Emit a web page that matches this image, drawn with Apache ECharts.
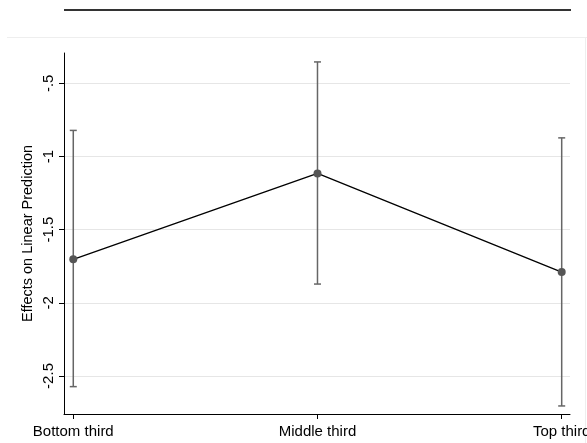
<!DOCTYPE html>
<html>
<head>
<meta charset="utf-8">
<script src="https://cdn.jsdelivr.net/npm/echarts@6/dist/echarts.min.js"></script>
<style>
html,body{margin:0;padding:0;background:#fff;}
#c{width:587px;height:443px;}
</style>
</head>
<body>
<div id="c"></div>
<script>
const categories = ["Bottom third", "Middle third", "Top third"];
const positions = [1, 2, 3];
const estimates = [-1.703, -1.116, -1.79];
const lowerCI = [-2.573, -1.872, -2.705];
const upperCI = [-0.822, -0.354, -0.873];
const yTicks = [-2.5, -2, -1.5, -1, -0.5];
const yTickLabels = ["-2.5", "-2", "-1.5", "-1", "-.5"];

const FONT = '"Liberation Sans", Arial, sans-serif';
const chart = echarts.init(document.getElementById('c'), null, {renderer: 'canvas'});

const lineData = positions.map((p, i) => [p, estimates[i]]);
const ciData = positions.map((p, i) => [p, lowerCI[i], upperCI[i]]);

chart.setOption({
  animation: false,
  backgroundColor: '#ffffff',
  grid: {left: 64, right: 17, top: 53, bottom: 29, containLabel: false, outerBoundsMode: 'none'},
  xAxis: {
    type: 'value', min: 0.962, max: 3.034,
    splitLine: {show: false},
    axisLine: {show: true, onZero: false, lineStyle: {color: '#000', width: 1}},
    axisTick: {show: true, customValues: positions, length: 5, lineStyle: {color: '#000'}},
    axisLabel: {
      customValues: positions, color: '#000', fontFamily: FONT, fontSize: 15, margin: 10,
      hideOverlap: false,
      formatter: v => categories[positions.indexOf(Math.round(v))] || ''
    }
  },
  yAxis: {
    type: 'value', min: -2.76, max: -0.293,
    name: 'Effects on Linear Prediction', nameLocation: 'middle', nameRotate: 90, nameGap: 29,
    nameMoveOverlap: false,
    nameTextStyle: {color: '#000', fontFamily: FONT, fontSize: 14.5},
    splitLine: {show: false},
    axisLine: {show: true, onZero: false, lineStyle: {color: '#000', width: 1}},
    axisTick: {show: true, customValues: yTicks, length: 5, lineStyle: {color: '#000'}},
    axisLabel: {
      customValues: yTicks, rotate: 90, color: '#000', fontFamily: FONT, fontSize: 15, margin: 8,
      formatter: v => { const k = yTicks.findIndex(t => Math.abs(t - v) < 1e-6); return k >= 0 ? yTickLabels[k] : ''; }
    }
  },
  series: [
    {
      type: 'line', data: [], z: 0, silent: true,
      markLine: {
        silent: true, z: 0, symbol: 'none', label: {show: false},
        lineStyle: {color: '#e6e6e6', width: 1, type: 'solid'},
        emphasis: {disabled: true},
        data: yTicks.map(t => ({yAxis: t}))
      }
    },
    {
      type: 'custom', z: 2, data: ciData,
      renderItem: function (params, api) {
        const x = api.value(0);
        const lo = api.coord([x, api.value(1)]);
        const hi = api.coord([x, api.value(2)]);
        const hw = 3.5;
        const st = {stroke: '#666', lineWidth: 1.5};
        return {type: 'group', children: [
          {type: 'line', shape: {x1: lo[0], y1: lo[1], x2: hi[0], y2: hi[1]}, style: st},
          {type: 'line', shape: {x1: lo[0]-hw, y1: lo[1], x2: lo[0]+hw, y2: lo[1]}, style: st},
          {type: 'line', shape: {x1: hi[0]-hw, y1: hi[1], x2: hi[0]+hw, y2: hi[1]}, style: st}
        ]};
      }
    },
    {
      type: 'line', z: 3, data: lineData,
      lineStyle: {color: '#000', width: 1.3},
      symbol: 'circle', symbolSize: 8,
      itemStyle: {color: '#555'}
    }
  ],
  graphic: [
    {type: 'line', shape: {x1: 64, y1: 10, x2: 571, y2: 10}, style: {stroke: '#333', lineWidth: 2}},
    {type: 'line', shape: {x1: 7, y1: 37.5, x2: 587, y2: 37.5}, style: {stroke: '#eeeeee', lineWidth: 1}},
    {type: 'line', shape: {x1: 585.5, y1: 37, x2: 585.5, y2: 443}, style: {stroke: '#eeeeee', lineWidth: 1}}
  ]
});
</script>
</body>
</html>
